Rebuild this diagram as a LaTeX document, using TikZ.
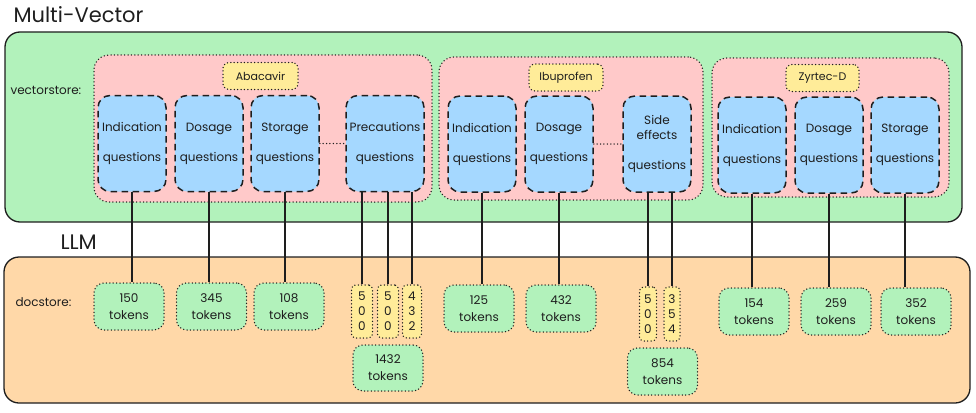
\documentclass[tikz,border=0pt]{standalone}
\usepackage{fontspec}
\setmainfont{Poppins}
\usetikzlibrary{positioning}

\definecolor{ink}{HTML}{1E1E1E}
\definecolor{vsgreen}{HTML}{B2F2BB}
\definecolor{dsorange}{HTML}{FFD8A8}
\definecolor{drugred}{HTML}{FFC9C9}
\definecolor{qblue}{HTML}{A5D8FF}
\definecolor{labelyellow}{HTML}{FFEC99}

\begin{document}
\begin{tikzpicture}[x=1pt,y=-1pt,
    every node/.style={font=\fontsize{12}{15}\selectfont,text=ink},
    dots/.style={line width=1.5pt,line cap=round,dash pattern=on 0pt off 3.4pt},
    store/.style={draw=ink,line width=1.3pt,rounded corners=15pt,inner sep=0pt},
    drug/.style={draw=ink,fill=drugred,dots,rounded corners=15pt,inner sep=0pt},
    druglabel/.style={draw=ink,fill=labelyellow,dots,rounded corners=6pt,inner sep=0pt,minimum height=27pt,font=\fontsize{11}{15}\selectfont},
    qbox/.style={draw=ink,fill=qblue,line width=1.5pt,dash pattern=on 6.5pt off 4.5pt,rounded corners=12pt,align=center,inner sep=0pt,minimum width=68pt,minimum height=96pt},
    tok/.style={draw=ink,fill=vsgreen,dots,rounded corners=10pt,align=center,inner sep=0pt,minimum width=70pt,minimum height=47pt,font=\fontsize{12}{17}\selectfont},
    chunk/.style={draw=ink,fill=labelyellow,dots,rounded corners=4pt,align=center,inner sep=0pt,minimum height=53pt},
    link/.style={draw=ink,line width=1.5pt},
    title/.style={font=\fontsize{21}{24}\selectfont,anchor=west}
  ]
  \useasboundingbox (0,0) rectangle (976,412);

  %% stores
  \node[title] (mv) at (10,15) {Multi-Vector};
  \node[store,fill=vsgreen,minimum width=957pt,minimum height=190pt] (vs) at (483.5,127) {};
  \node[anchor=west] (vslabel) at (7,90) {vectorstore:};
  \node[title] (llm) at (57,242) {LLM};
  \node[store,fill=dsorange,minimum width=966pt,minimum height=146pt] (ds) at (487,330) {};
  \node[anchor=west] (dslabel) at (12,302) {docstore:};

  %% drugs
  \node[drug,minimum width=338pt,minimum height=147pt] (ab) at (263,128.5) {};
  \node[drug,minimum width=264pt,minimum height=143pt] (ib) at (571,128.5) {};
  \node[drug,minimum width=237pt,minimum height=139pt] (zy) at (830.5,127.5) {};
  \node[druglabel,minimum width=75pt] (abl) at (260.5,76) {Abacavir};
  \node[druglabel,minimum width=74pt] (ibl) at (566,77.5) {Ibuprofen};
  \node[druglabel,minimum width=73pt] (zyl) at (822.5,78) {Zyrtec-D};

  \node[qbox] (ab-ind) at (132,143.5) {Indication\\[15pt]questions};
  \node[qbox] (ab-dos) at (209,143.5) {Dosage\\[15pt]questions};
  \node[qbox] (ab-sto) at (285,143.5) {Storage\\[15pt]questions};
  \node[qbox,minimum width=78pt] (ab-pre) at (385,143.5) {Precautions\\[15pt]questions};
  \node[qbox] (ib-ind) at (482,144) {Indication\\[15pt]questions};
  \node[qbox] (ib-dos) at (559,144) {Dosage\\[15pt]questions};
  \node[qbox] (ib-sid) at (657,144) {Side\\effects\\[15pt]questions};
  \node[qbox] (zy-ind) at (752,145) {Indication\\[15pt]questions};
  \node[qbox] (zy-dos) at (829,145) {Dosage\\[15pt]questions};
  \node[qbox] (zy-sto) at (905,145) {Storage\\[15pt]questions};

  \draw[draw=ink,dots] (ab-sto) -- (ab-pre);
  \draw[draw=ink,dots] (ib-dos) -- (ib-sid);

  %% token chunks
  \node[tok] (ab-ind-t) at (129,306.5) {150\\tokens};
  \node[tok] (ab-dos-t) at (211.5,306.5) {345\\tokens};
  \node[tok] (ab-sto-t) at (289,306.5) {108\\tokens};
  \node[chunk,minimum width=21pt] (ab-pre-a) at (362,311.5) {5\\0\\0};
  \node[chunk,minimum width=21pt] (ab-pre-b) at (388,311.5) {5\\0\\0};
  \node[chunk,minimum width=19pt] (ab-pre-c) at (412,311.5) {4\\3\\2};
  \node[tok,minimum height=46pt] (ab-pre-t) at (388,368) {1432\\tokens};
  \node[tok] (ib-ind-t) at (479,308.5) {125\\tokens};
  \node[tok] (ib-dos-t) at (561,308.5) {432\\tokens};
  \node[chunk,minimum width=17pt,minimum height=54pt] (ib-sid-a) at (648,314) {5\\0\\0};
  \node[chunk,minimum width=16pt,minimum height=54pt] (ib-sid-b) at (672,314) {3\\5\\4};
  \node[tok] (ib-sid-t) at (662.5,371.5) {854\\tokens};
  \node[tok] (zy-ind-t) at (754,311.5) {154\\tokens};
  \node[tok] (zy-dos-t) at (836,311.5) {259\\tokens};
  \node[tok] (zy-sto-t) at (916,311.5) {352\\tokens};

  %% links
  \draw[link] (ab-ind.south) -- (ab-ind.south |- ab-ind-t.north);
  \draw[link] (ab-dos.south) -- (ab-dos.south |- ab-dos-t.north);
  \draw[link] (ab-sto.south) -- (ab-sto.south |- ab-sto-t.north);
  \draw[link] (ab-pre-a.north |- ab-pre.south) -- (ab-pre-a.north);
  \draw[link] (ab-pre-b.north |- ab-pre.south) -- (ab-pre-b.north);
  \draw[link] (ab-pre-c.north |- ab-pre.south) -- (ab-pre-c.north);
  \draw[link] (ib-ind.south) -- (ib-ind.south |- ib-ind-t.north);
  \draw[link] (ib-dos.south) -- (ib-dos.south |- ib-dos-t.north);
  \draw[link] (ib-sid-a.north |- ib-sid.south) -- (ib-sid-a.north);
  \draw[link] (ib-sid-b.north |- ib-sid.south) -- (ib-sid-b.north);
  \draw[link] (zy-ind.south) -- (zy-ind.south |- zy-ind-t.north);
  \draw[link] (zy-dos.south) -- (zy-dos.south |- zy-dos-t.north);
  \draw[link] (zy-sto.south) -- (zy-sto.south |- zy-sto-t.north);
\end{tikzpicture}
\end{document}
